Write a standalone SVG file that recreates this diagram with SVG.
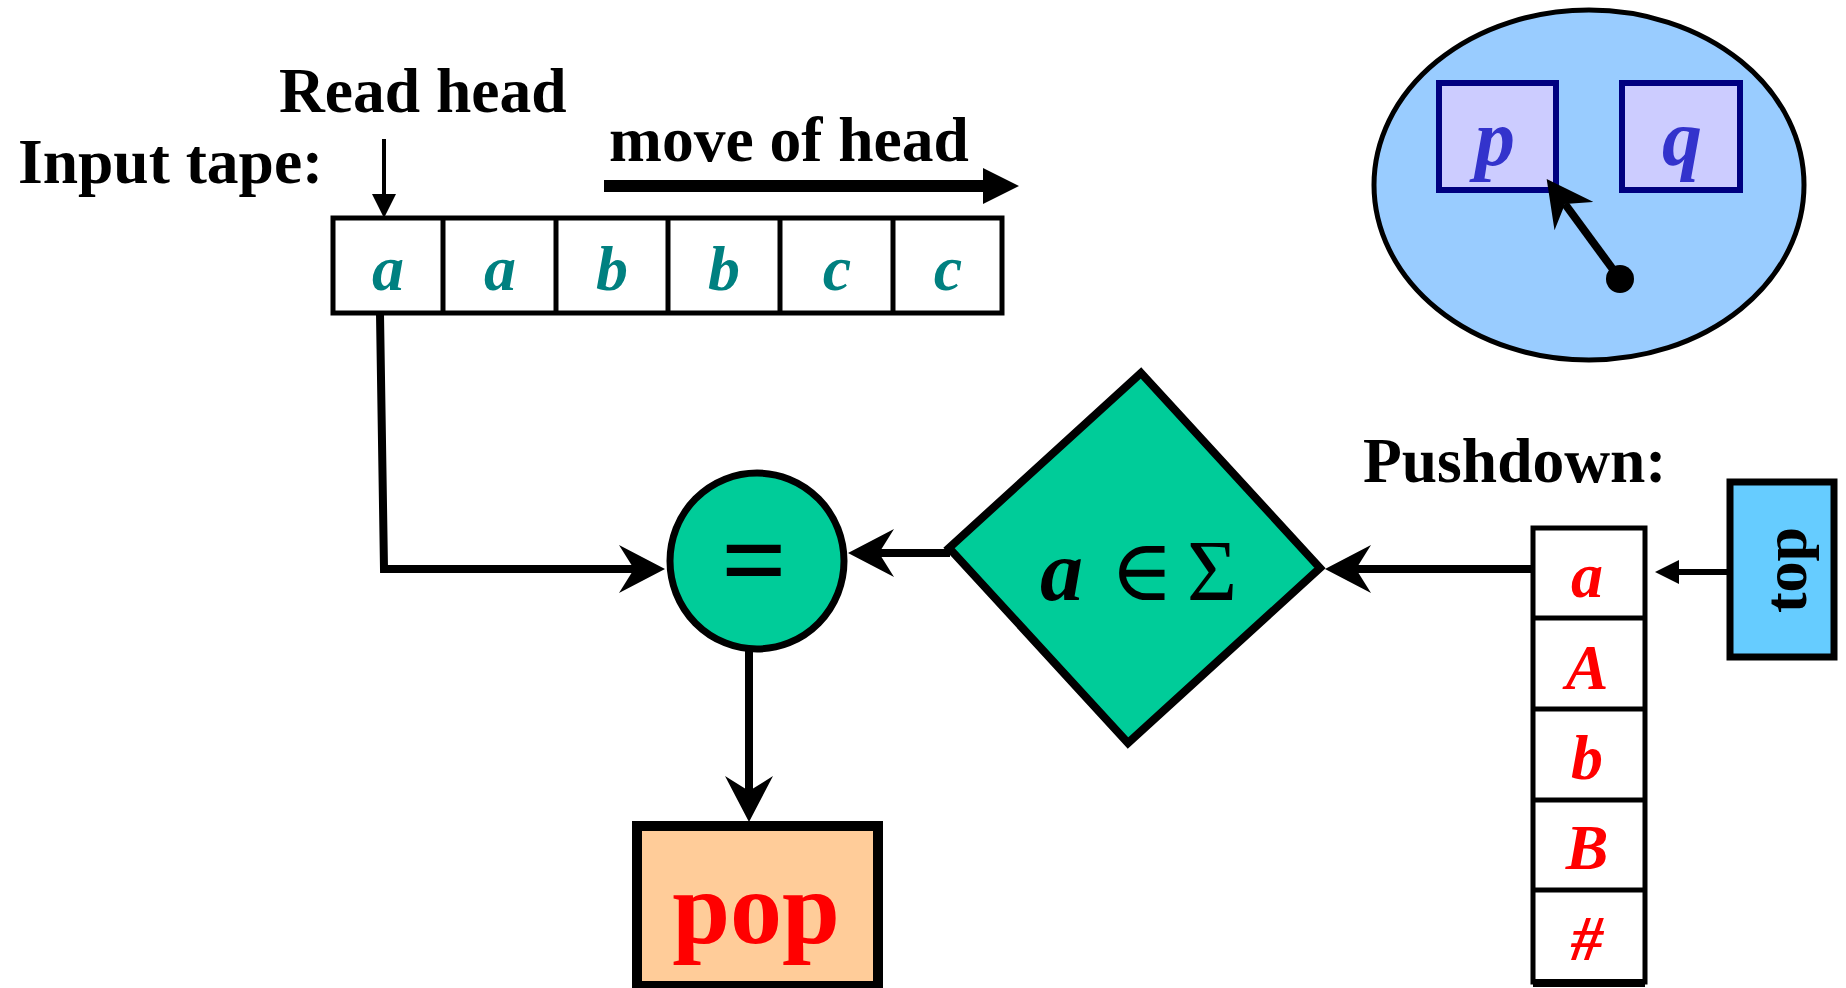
<svg xmlns="http://www.w3.org/2000/svg" width="1846" height="988" viewBox="0 0 1846 988">
<style>
.lbl{font-family:"Liberation Serif","Times New Roman",serif;font-weight:bold;fill:#000}
.sym{font-family:"Liberation Serif","DejaVu Serif",serif;font-weight:bold;font-style:italic;text-anchor:middle}
.tape{fill:#008080}
.stk{fill:#FF0000}
.cell{fill:#fff;stroke:#000;stroke-width:5}
.conn{fill:none;stroke:#000;stroke-width:8}
</style>
<defs>
<marker id="stealth" markerUnits="userSpaceOnUse" viewBox="0 0 46 48" markerWidth="46" markerHeight="48" refX="15" refY="24" orient="auto">
<path d="M46,24 L0,0 L15,24 L0,48 Z" fill="#000"/>
</marker>
<marker id="tri" markerUnits="userSpaceOnUse" viewBox="0 0 24 24" markerWidth="24" markerHeight="24" refX="1" refY="12" orient="auto">
<path d="M0,0 L24,12 L0,24 Z" fill="#000"/>
</marker>
<marker id="big" markerUnits="userSpaceOnUse" viewBox="0 0 36 36" markerWidth="36" markerHeight="36" refX="1" refY="18" orient="auto">
<path d="M0,0 L36,18 L0,36 Z" fill="#000"/>
</marker>
</defs>

<g id="labels">
<text class="lbl" x="279" y="112" font-size="63.5">Read head</text>
<text class="lbl" x="18" y="183" font-size="63.5">Input tape:</text>
<text class="lbl" x="609" y="161" font-size="63.5">move of head</text>
<text class="lbl" x="1363" y="482" font-size="63.5">Pushdown:</text>
</g>

<g id="input-tape">
<rect class="cell" x="333" y="218" width="669" height="95"/>
<g stroke="#000" stroke-width="5">
<line x1="443" y1="218" x2="443" y2="313"/>
<line x1="556" y1="218" x2="556" y2="313"/>
<line x1="668" y1="218" x2="668" y2="313"/>
<line x1="780" y1="218" x2="780" y2="313"/>
<line x1="893" y1="218" x2="893" y2="313"/>
</g>
<g class="sym tape" font-size="64">
<text x="388" y="290">a</text>
<text x="500" y="290">a</text>
<text x="612" y="290">b</text>
<text x="724" y="290">b</text>
<text x="837" y="290">c</text>
<text x="948" y="290">c</text>
</g>
</g>

<g id="state-ellipse">
<ellipse cx="1589" cy="185" rx="215" ry="175" fill="#99CCFF" stroke="#000" stroke-width="5"/>
<rect x="1439" y="83" width="117" height="107" fill="#CCCCFF" stroke="#000080" stroke-width="6"/>
<rect x="1622" y="83" width="118" height="107" fill="#CCCCFF" stroke="#000080" stroke-width="6"/>
<text class="sym" x="1495" y="165" font-size="80" fill="#3333CC">p</text>
<text class="sym" x="1682" y="165" font-size="80" fill="#3333CC">q</text>
<circle cx="1620" cy="279" r="14" fill="#000"/>
</g>

<g id="compare">
<ellipse cx="757" cy="561" rx="87" ry="88" fill="#00CC99" stroke="#000" stroke-width="7"/>
<text x="754" y="599" font-family="Liberation Serif,serif" font-weight="bold" font-size="116" text-anchor="middle" fill="#000">=</text>
</g>

<g id="decision">
<polygon points="1141,373 1320,568 1128,743 949,548" fill="#00CC99" stroke="#000" stroke-width="8" stroke-linejoin="miter"/>
<text y="600" font-family="Liberation Serif,DejaVu Serif,serif" font-size="86" fill="#000"><tspan x="1040" font-weight="bold" font-style="italic">a</tspan><tspan x="1110">∈</tspan><tspan x="1187">Σ</tspan></text>
</g>

<g id="pushdown-stack">
<rect class="cell" x="1533" y="528" width="112" height="454"/>
<g stroke="#000" stroke-width="5">
<line x1="1533" y1="618" x2="1645" y2="618"/>
<line x1="1533" y1="709" x2="1645" y2="709"/>
<line x1="1533" y1="800" x2="1645" y2="800"/>
<line x1="1533" y1="890" x2="1645" y2="890"/>
</g>
<line x1="1533" y1="983" x2="1645" y2="983" stroke="#000" stroke-width="8"/>
<g class="sym stk" font-size="64">
<text x="1587" y="597">a</text>
<text x="1587" y="689">A</text>
<text x="1587" y="779">b</text>
<text x="1587" y="869">B</text>
<text x="1587" y="960">#</text>
</g>
</g>

<g id="top-pointer">
<rect x="1730" y="482" width="104" height="175" fill="#66CCFF" stroke="#000" stroke-width="7"/>
<text class="lbl" x="1806" y="570" font-size="62" text-anchor="middle" transform="rotate(-90 1806 570)">top</text>
</g>

<g id="pop">
<rect x="637" y="826" width="241" height="160" fill="#FFCC99" stroke="#000" stroke-width="10"/>
<text class="lbl" x="756" y="943" font-size="104" text-anchor="middle" fill="#FF0000" style="fill:#FF0000">pop</text>
</g>

<g id="connectors">
<line x1="384" y1="139" x2="384" y2="195" stroke="#000" stroke-width="4" marker-end="url(#tri)"/>
<line x1="604" y1="186" x2="984" y2="186" stroke="#000" stroke-width="12" marker-end="url(#big)"/>
<polyline class="conn" points="380,314 384,569 634,569" marker-end="url(#stealth)"/>
<line class="conn" x1="950" y1="553" x2="879" y2="553" marker-end="url(#stealth)"/>
<line class="conn" x1="1531" y1="569" x2="1356" y2="569" marker-end="url(#stealth)"/>
<line class="conn" x1="749" y1="650" x2="749" y2="791" marker-end="url(#stealth)"/>
<line class="conn" x1="1620" y1="279" x2="1565" y2="204" marker-end="url(#stealth)"/>
<line x1="1727" y1="572" x2="1678" y2="572" stroke="#000" stroke-width="6" marker-end="url(#tri)"/>
</g>
</svg>
